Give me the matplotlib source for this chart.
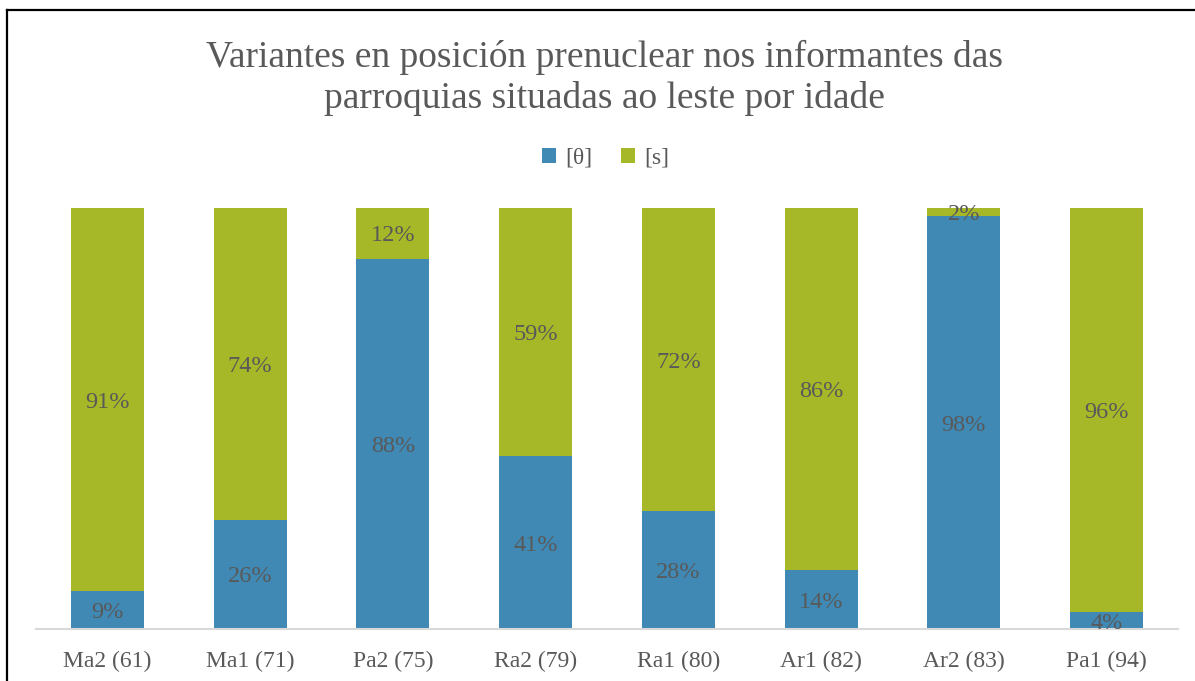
import matplotlib.pyplot as plt
from matplotlib.lines import Line2D

plt.rcParams['font.family'] = ['Liberation Serif', 'DejaVu Serif']

informants = ['Ma2 (61)', 'Ma1 (71)', 'Pa2 (75)', 'Ra2 (79)',
              'Ra1 (80)', 'Ar1 (82)', 'Ar2 (83)', 'Pa1 (94)']
theta = [9, 26, 88, 41, 28, 14, 98, 4]
s_vals = [91, 74, 12, 59, 72, 86, 2, 96]
series_names = ['[θ]', '[s]']

BLUE = '#3F89B4'
GREEN = '#A6B827'
TXT = '#595959'

fig = plt.figure(figsize=(11.95, 6.81), dpi=100)
ax = fig.add_axes([36/1195, 1-629/681, (1178-36)/1195, (629-208)/681])

x = range(len(informants))
b1 = ax.bar(x, theta, width=0.51, color=BLUE, label=series_names[0])
b2 = ax.bar(x, s_vals, width=0.51, bottom=theta, color=GREEN, label=series_names[1])

for i in x:
    ax.text(i, theta[i] / 2, f'{theta[i]}%', ha='center', va='center_baseline',
            fontsize=17.5, color=TXT)
    ax.text(i, theta[i] + s_vals[i] / 2, f'{s_vals[i]}%', ha='center',
            va='center_baseline', fontsize=17.5, color=TXT)

ax.set_xlim(-0.5, len(informants) - 0.5)
ax.set_ylim(0, 100)
ax.set_xticks(list(x))
ax.set_xticklabels(informants, fontsize=17, color=TXT)
ax.tick_params(axis='x', length=0, pad=16)
ax.set_yticks([])
for side in ['top', 'right', 'left']:
    ax.spines[side].set_visible(False)
ax.spines['bottom'].set_color('#D9D9D9')
ax.spines['bottom'].set_linewidth(1.5)

fig.text(0.506, 1 - 78/681,
         'Variantes en posición prenuclear nos informantes das\nparroquias situadas ao leste por idade',
         ha='center', va='center', fontsize=27, color=TXT, linespacing=1.25)

fig.legend(handles=[b1, b2], loc='center', bbox_to_anchor=(0.507, 1 - 158/681),
           ncol=2, frameon=False, fontsize=17, labelcolor=TXT,
           handlelength=0.6, handleheight=0.6, handletextpad=0.4, columnspacing=1.2)

# outer frame lines (left and top)
fig.add_artist(Line2D([7/1195, 7/1195], [0, 1 - 10/681], transform=fig.transFigure,
                      color='black', linewidth=1.6))
fig.add_artist(Line2D([7/1195, 1], [1 - 10/681, 1 - 10/681], transform=fig.transFigure,
                      color='black', linewidth=1.6))

fig.savefig('out.png', dpi=100)
